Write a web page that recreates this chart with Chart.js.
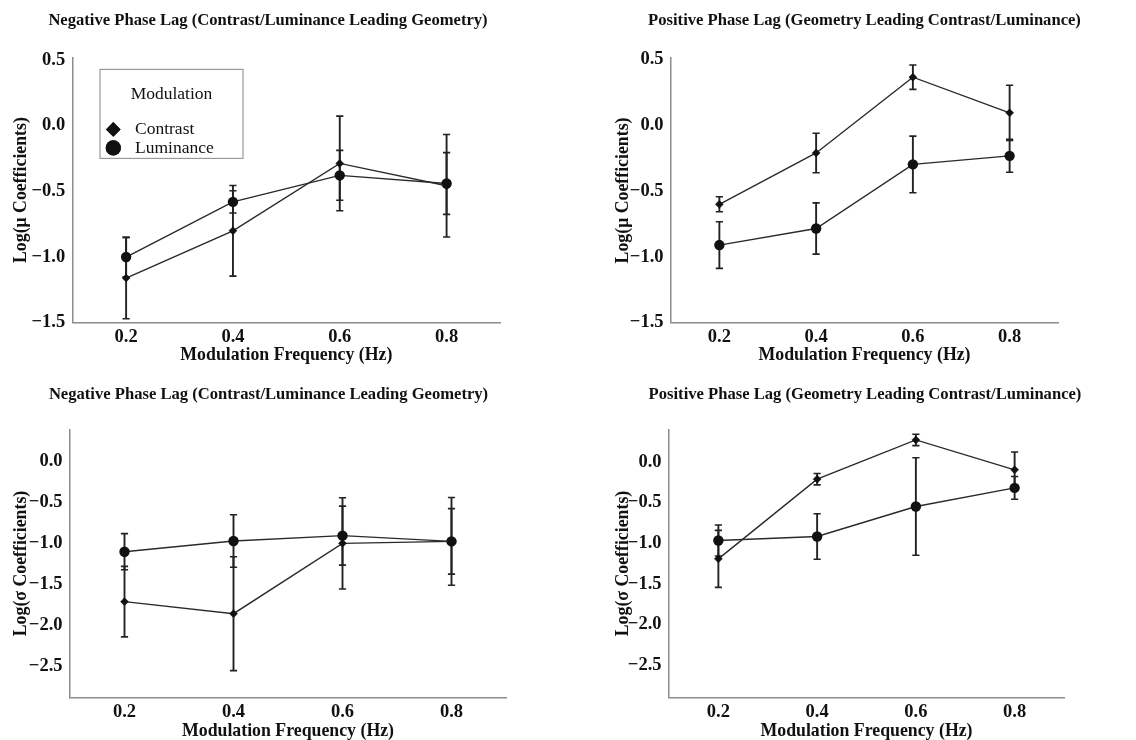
<!DOCTYPE html>
<html><head><meta charset="utf-8">
<script src="https://cdn.jsdelivr.net/npm/chart.js@4.4.1/dist/chart.umd.min.js"></script>
<style>
html,body{margin:0;padding:0;background:#fff;overflow:hidden;width:1136px;height:740px;}
canvas{position:absolute;}
</style></head><body>
<canvas id="cA" width="536" height="372" style="left:0px;top:0px"></canvas>
<canvas id="cB" width="529" height="372" style="left:600px;top:0px"></canvas>
<canvas id="cC" width="537" height="370" style="left:0px;top:372px"></canvas>
<canvas id="cD" width="530" height="370" style="left:600px;top:372px"></canvas>
<script>
// ---------- data ----------
const freqs = [0.2, 0.4, 0.6, 0.8];
const xTicks = [0.2, 0.4, 0.6, 0.8];
const yTicksMu = [0.5, 0.0, -0.5, -1.0, -1.5];
const yTicksSigma = [0.0, -0.5, -1.0, -1.5, -2.0, -2.5];
const seriesNames = ['Contrast', 'Luminance'];
const legendTitle = 'Modulation';
const titleNeg = 'Negative Phase Lag (Contrast/Luminance Leading Geometry)';
const titlePos = 'Positive Phase Lag (Geometry Leading Contrast/Luminance)';
const xTitle = 'Modulation Frequency (Hz)';
const yTitleMu = 'Log(\u03bc Coefficients)';
const yTitleSigma = 'Log(\u03c3 Coefficients)';

// mu, negative phase lag
const muNegContrast = [-1.16, -0.80, -0.287, -0.457];
const muNegContrastErr = [0.31, 0.345, 0.36, 0.39];
const muNegLum = [-1.00, -0.58, -0.378, -0.44];
const muNegLumErr = [0.15, 0.085, 0.19, 0.235];
// mu, positive phase lag
const muPosContrast = [-0.60, -0.21, 0.366, 0.095];
const muPosContrastErr = [0.057, 0.15, 0.093, 0.21];
const muPosLum = [-0.91, -0.784, -0.297, -0.232];
const muPosLumErr = [0.177, 0.195, 0.215, 0.125];
// sigma, negative phase lag
const sigNegContrast = [-1.715, -1.862, -1.004, -0.98];
const sigNegContrastErr = [0.43, 0.695, 0.557, 0.535];
const sigNegLum = [-1.106, -0.976, -0.91, -0.98];
const sigNegLumErr = [0.22, 0.32, 0.36, 0.40];
// sigma, positive phase lag
const sigPosContrast = [-1.193, -0.213, 0.27, -0.098];
const sigPosContrastErr = [0.35, 0.07, 0.07, 0.22];
const sigPosLum = [-0.967, -0.918, -0.549, -0.32];
const sigPosLumErr = [0.19, 0.28, 0.60, 0.14];

// ---------- styling ----------
const FONT = "'Liberation Serif', 'Times New Roman', serif";
const INK = '#111';
const AXIS = '#8c8c8c';

function fmt(v) { const s = Math.abs(v).toFixed(1); return (v < -1e-9 ? '\u2212' : '') + s; }

function series(vals) { return freqs.map((f, i) => ({ x: f, y: vals[i] })); }
function errSeries(vals, errs) {
  const out = [];
  freqs.forEach((f, i) => {
    out.push({ x: f, y: vals[i] - errs[i] });
    out.push({ x: f, y: vals[i] + errs[i] });
    out.push({ x: f, y: null });
  });
  return out;
}

const legendPlugin = {
  id: 'modLegend',
  afterDatasetsDraw(chart, args, opts) {
    if (!opts || !opts.show) return;
    const ctx = chart.ctx;
    const ca = chart.chartArea;
    const L = ca.left + 27.3, T = ca.top + 12, W = 143, H = 89;
    ctx.save();
    ctx.fillStyle = '#fff';
    ctx.fillRect(L, T, W, H);
    ctx.strokeStyle = '#9a9a9a';
    ctx.lineWidth = 1.2;
    ctx.strokeRect(L, T, W, H);
    ctx.fillStyle = INK;
    ctx.font = "17.5px " + FONT;
    ctx.textBaseline = 'middle';
    ctx.textAlign = 'center';
    ctx.fillText(legendTitle, L + W / 2, T + 25);
    ctx.textAlign = 'left';
    const styles = ['rectRot', 'circle'];
    const radii = [7.3, 7.6];
    seriesNames.forEach((name, i) => {
      const y = T + 60 + i * 18.5;
      ctx.fillStyle = INK;
      ctx.strokeStyle = INK;
      Chart.helpers.drawPoint(ctx, { pointStyle: styles[i], radius: radii[i], borderWidth: 0 }, L + 13.3, y);
      ctx.fillStyle = INK;
      ctx.fill();
      ctx.fillText(name, L + 35, y);
    });
    ctx.restore();
  }
};

function makePanel(id, p) {
  const datasets = [
    { label: seriesNames[0], data: series(p.c), borderColor: '#2a2a2a', borderWidth: 1.4,
      pointStyle: 'rectRot', pointRadius: 4, pointBackgroundColor: INK, pointBorderColor: INK, pointBorderWidth: 0.5, order: 0 },
    { label: seriesNames[1], data: series(p.l), borderColor: '#2a2a2a', borderWidth: 1.4,
      pointStyle: 'circle', pointRadius: 5.2, pointBackgroundColor: INK, pointBorderColor: INK, pointBorderWidth: 0, order: 0 },
    { label: 'err-c', data: errSeries(p.c, p.ce), borderColor: '#222', borderWidth: 1.9, spanGaps: false,
      pointStyle: 'line', pointRadius: 3.6, pointBorderColor: '#222', pointBorderWidth: 1.6, order: 2 },
    { label: 'err-l', data: errSeries(p.l, p.le), borderColor: '#222', borderWidth: 1.9, spanGaps: false,
      pointStyle: 'line', pointRadius: 3.6, pointBorderColor: '#222', pointBorderWidth: 1.6, order: 2 }
  ];
  const tickFont = { family: FONT, size: 18.5, weight: 'bold' };
  const titleFont = { family: FONT, size: 17.8, weight: 'bold' };
  new Chart(document.getElementById(id), {
    type: 'line',
    data: { datasets },
    options: {
      responsive: false, animation: false, events: [],
      layout: { padding: 0 },
      plugins: {
        legend: { display: false },
        tooltip: { enabled: false },
        title: { display: true, text: p.title, color: INK,
          font: { family: FONT, size: 16.6, weight: 'bold' }, padding: { top: p.tpt, bottom: p.tpb } },
        modLegend: { show: !!p.legend }
      },
      scales: {
        x: { type: 'linear', position: 'bottom', min: 0.1, max: 0.9,
          afterBuildTicks: s => { s.ticks = xTicks.map(v => ({ value: v })); },
          afterFit: s => { s.height = p.xh; },
          grid: { display: false, drawTicks: false },
          border: { display: true, color: AXIS, width: 1.5 },
          ticks: { padding: 3, color: INK, font: tickFont, callback: v => fmt(v), maxRotation: 0, autoSkip: false },
          title: { display: true, text: xTitle, color: INK, font: titleFont, padding: { top: 0, bottom: p.xpb } } },
        y: { type: 'linear', position: 'left', min: p.ymin, max: p.ymax,
          afterBuildTicks: s => { s.ticks = p.yt.map(v => ({ value: v })); },
          afterFit: s => { s.width = p.yw; },
          grid: { display: false, drawTicks: false },
          border: { display: true, color: AXIS, width: 1.5 },
          ticks: { padding: 7.5, color: INK, font: tickFont, callback: v => fmt(v), autoSkip: false },
          title: { display: true, text: p.ytitle, color: INK, font: titleFont, padding: { top: p.ypt, bottom: 0 } } },
        yR: { type: 'linear', position: 'right', display: true,
          afterFit: s => { s.width = p.rw; },
          grid: { display: false, drawTicks: false }, border: { display: false }, ticks: { display: false } }
      }
    },
    plugins: [legendPlugin]
  });
}

makePanel('cA', { title: titleNeg, c: muNegContrast, ce: muNegContrastErr, l: muNegLum, le: muNegLumErr,
  yt: yTicksMu, ymin: -1.5, ymax: 0.52, ytitle: yTitleMu, legend: true,
  tpt: 11.0, tpb: 26.5, xh: 49.3, xpb: 6.3, yw: 72.7, ypt: 11.0, rw: 36 });
makePanel('cB', { title: titlePos, c: muPosContrast, ce: muPosContrastErr, l: muPosLum, le: muPosLumErr,
  yt: yTicksMu, ymin: -1.5, ymax: 0.51, ytitle: yTitleMu,
  tpt: 11.0, tpb: 27.3, xh: 49.3, xpb: 6.3, yw: 71, ypt: 12.3, rw: 71 });
makePanel('cC', { title: titleNeg, c: sigNegContrast, ce: sigNegContrastErr, l: sigNegLum, le: sigNegLumErr,
  yt: yTicksSigma, ymin: -2.887, ymax: 0.387, ytitle: yTitleSigma,
  tpt: 13.0, tpb: 24.4, xh: 44.3, xpb: 0, yw: 70, ypt: 11.0, rw: 31 });
makePanel('cD', { title: titlePos, c: sigPosContrast, ce: sigPosContrastErr, l: sigPosLum, le: sigPosLumErr,
  yt: yTicksSigma, ymin: -2.90, ymax: 0.40, ytitle: yTitleSigma,
  tpt: 13.0, tpb: 24.4, xh: 44.3, xpb: 0, yw: 69, ypt: 12.6, rw: 66 });
</script>
</body></html>
